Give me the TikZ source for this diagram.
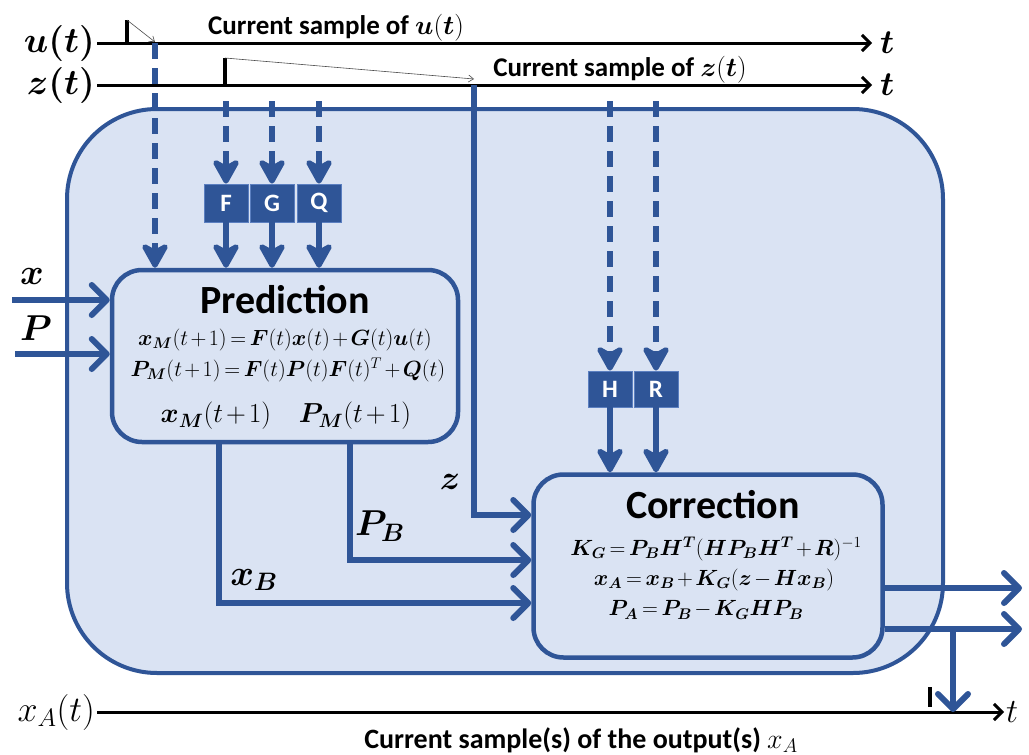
\RequirePackage{fix-cm}
\documentclass[tikz,border=0pt]{standalone}
\usepackage{amsmath,bm}
\usepackage{fontspec}
\setmainfont{Carlito}
\usetikzlibrary{arrows.meta}
\definecolor{blu}{HTML}{2F5597}
\definecolor{lblu}{HTML}{DAE3F3}
\definecolor{mblu}{HTML}{5B7FC0}
\newcommand{\fsz}[1]{\fontsize{#1pt}{#1pt}\selectfont}
\newcommand{\tightmath}{\medmuskip=2mu\thickmuskip=3mu}
\tikzset{
  bbarb/.tip={Straight Barb[length=15pt,width=30pt,round]},
  bhead/.tip={Stealth[length=30pt,width=33pt,inset=9pt,round]},
  kbarb/.tip={Straight Barb[length=8pt,width=16pt]},
  tbarb/.tip={Straight Barb[length=5pt,width=7pt]},
  bigbox/.style={draw=blu,line width=4pt,fill=lblu,rounded corners=90pt,inner sep=0pt},
  procbox/.style={draw=blu,line width=4.5pt,fill=lblu,rounded corners=30pt,inner sep=0pt},
  mbox/.style={draw=mblu,line width=0.8pt,fill=blu,text=white,font=\fsz{25}\bfseries,inner sep=0pt},
  bline/.style={draw=blu,line width=6pt},
  bdash/.style={draw=blu,line width=6pt,dash pattern=on 16pt off 9pt},
  axis/.style={draw=black,line width=3pt,-kbarb},
  tickline/.style={draw=black,line width=4pt},
  thinarr/.style={draw=black!70,line width=0.6pt,-tbarb},
  lab/.style={inner sep=2pt,font=\fsz{36}},
  tlab/.style={inner sep=8pt,font=\fsz{34}},
  ttl/.style={inner sep=0pt,font=\fsz{40}\bfseries},
  eqn/.style={inner sep=0pt,font=\fsz{22}\tightmath},
  eqb/.style={inner sep=0pt,font=\fsz{27.5}\tightmath},
  note/.style={inner sep=0pt,font=\fsz{27}\bfseries},
}
\begin{document}
\begin{tikzpicture}[x=1pt,y=-1pt]
\useasboundingbox (0,0) rectangle (1029,755);
% main frame
\node[bigbox,minimum width=876,minimum height=564] (main) at (505,391) {};
% time axes
\node[lab,anchor=east] (ul) at (97,43) {$\bm{u}\bm{(}\bm{t}\bm{)}$};
\node[tlab,anchor=west] (tu) at (872,43) {$\bm{t}$};
\draw[axis] (ul) -- (tu);
\node[lab,anchor=east] (zl) at (97,85) {$\bm{z}\bm{(}\bm{t}\bm{)}$};
\node[tlab,anchor=west] (tz) at (872,85) {$\bm{t}$};
\draw[axis] (zl) -- (tz);
\node[lab,anchor=east] (xal) at (97,712) {$x_A(t)$};
\node[tlab,inner sep=2pt,anchor=west] (ta) at (1004,712) {$t$};
\draw[axis] (xal) -- (ta);
% sample ticks
\coordinate (ku) at (127,20);
\coordinate (kz) at (225,58);
\coordinate (kx) at (930,687);
\draw[tickline] (ku) -- (ku |- ul);
\draw[tickline] (kz) -- (kz |- zl);
\draw[tickline] (kx) -- ([yshift=-20pt]kx);
\coordinate (uin) at (155,43);
\coordinate (zin) at (474,85);
\draw[thinarr] (ku) -- ([yshift=1pt]uin);
\draw[thinarr] (kz) -- ([yshift=6pt]zin);
\node[note] (cu) at (336,28) {Current sample of $\bm{u}(\bm{t})$};
\node[note] (cz) at (620,70) {Current sample of $\bm{z}(\bm{t})$};
\node[note,font=\fsz{28}\bfseries] (cxa) at (581,740) {Current sample(s) of the output(s) $x_A$};
% process boxes
\node[procbox,minimum width=346,minimum height=172] (pred) at (285,356) {};
\node[procbox,minimum width=349,minimum height=183] (corr) at (708,566) {};
% matrix boxes
\node[mbox,minimum width=44,minimum height=38] (F) at (226,203) {F};
\node[mbox,minimum width=44,minimum height=38] (G) at (272,203) {G};
\node[mbox,minimum width=44,minimum height=38] (Q) at (319,203) {Q};
\node[mbox,minimum width=44,minimum height=36] (H) at (610,389) {H};
\node[mbox,minimum width=44,minimum height=36] (R) at (656,389) {R};
% dashed inputs
\coordinate (top) at (0,101);
\draw[bdash,-bhead] (uin) -- (uin |- pred.north);
\foreach \n in {F,G,Q,H,R}{
  \draw[bdash,-bhead] (\n |- top) -- (\n.north);
}
\foreach \n in {F,G,Q}{
  \draw[bline,-bhead] (\n.south) -- (\n.south |- pred.north);
}
\foreach \n in {H,R}{
  \draw[bline,-bhead] (\n.south) -- (\n.south |- corr.north);
}
% inputs x and P
\coordinate (xs) at (12,300);
\coordinate (ps) at (15,354);
\draw[bline,-bbarb] (xs) -- (pred.west |- xs);
\draw[bline,-bbarb] (ps) -- (pred.west |- ps);
\node[lab] (xlab) at (32,276) {$\bm{x}$};
\node[lab] (plab) at (36,328) {$\bm{P}$};
% prediction -> correction
\coordinate (zc) at (474,515);
\coordinate (pbc) at (350,560);
\coordinate (xbc) at (219,603);
\draw[bline,-bbarb] (zin) |- (corr.west |- zc);
\draw[bline,-bbarb] (pred.south -| pbc) |- (corr.west |- pbc);
\draw[bline,-bbarb] (pred.south -| xbc) |- (corr.west |- xbc);
\node[lab,font=\fsz{34}] (zlab) at (450,482) {$\bm{z}$};
\node[lab] (pblab) at (380,526) {$\bm{P}_{\bm{B}}$};
\node[lab] (xblab) at (254,580) {$\bm{x}_{\bm{B}}$};
% outputs
\coordinate (o1) at (1022,588);
\coordinate (o2) at (1022,629);
\coordinate (d0) at (953,629);
\draw[bline,-bbarb] (corr.east |- o1) -- (o1);
\draw[bline,-bbarb] (corr.east |- o2) -- (o2);
\draw[bline,-bbarb] (d0) -- (d0 |- xal);
% texts in prediction
\node[ttl] (pt) at (285,300) {Prediction};
\node[eqn] (pe1) at (285,340) {$\bm{x}_{\bm{M}}(t+1)=\bm{F}(t)\bm{x}(t)+\bm{G}(t)\bm{u}(t)$};
\node[eqn] (pe2) at (288,370) {$\bm{P}_{\bm{M}}(t+1)=\bm{F}(t)\bm{P}(t)\bm{F}(t)^{T}+\bm{Q}(t)$};
\node[eqb] (pe3) at (216,416) {$\bm{x}_{\bm{M}}(t+1)$};
\node[eqb] (pe4) at (355,416) {$\bm{P}_{\bm{M}}(t+1)$};
% texts in correction
\node[ttl] (ct) at (713,505) {Correction};
\node[eqn] (ce1) at (716,549) {$\bm{K}_{\bm{G}}=\bm{P}_{\bm{B}}\bm{H}^{\bm{T}}(\bm{H}\bm{P}_{\bm{B}}\bm{H}^{\bm{T}}+\bm{R})^{-1}$};
\node[eqn] (ce2) at (714,580) {$\bm{x}_{\bm{A}}=\bm{x}_{\bm{B}}+\bm{K}_{\bm{G}}(\bm{z}-\bm{H}\bm{x}_{\bm{B}})$};
\node[eqn] (ce3) at (706,610) {$\bm{P}_{\bm{A}}=\bm{P}_{\bm{B}}-\bm{K}_{\bm{G}}\bm{H}\bm{P}_{\bm{B}}$};
\end{tikzpicture}
\end{document}
